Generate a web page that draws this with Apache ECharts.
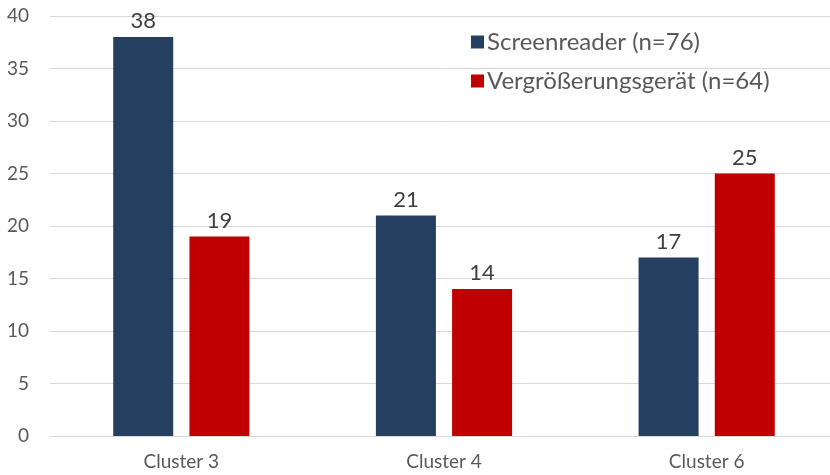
<!DOCTYPE html>
<html><head><meta charset="utf-8">
<script src="https://cdn.jsdelivr.net/npm/echarts@6/dist/echarts.min.js"></script>
<style>html,body{margin:0;padding:0;background:#fff}#c{width:830px;height:475px}</style>
</head><body><div id="c"></div>
<script>
const categories = ['Cluster 3', 'Cluster 4', 'Cluster 6'];
const screenreader = [38, 21, 17];
const vergroesserung = [19, 14, 25];
const seriesNames = ['Screenreader (n=76)', 'Vergrößerungsgerät (n=64)'];
const FONT = 'Lato';
const chart = echarts.init(document.getElementById('c'), null, {renderer: 'canvas'});
const labelStyle = {show: true, position: 'top', color: '#404040', fontSize: 22, lineHeight: 22, fontFamily: FONT, distance: 5};
chart.setOption({
  animation: false,
  backgroundColor: '#fff',
  textStyle: {fontFamily: FONT},
  grid: {left: 50, top: 16, right: -8, height: 420, containLabel: false, outerBoundsMode: 'none'},
  legend: {
    orient: 'vertical', left: 466, top: 25, itemWidth: 13, itemHeight: 13, itemGap: 15,
    icon: 'rect',
    textStyle: {color: '#595959', fontSize: 24, lineHeight: 24, fontFamily: FONT, padding: [0, 0, 0, -2]},
    data: seriesNames
  },
  xAxis: {
    type: 'category', data: categories,
    axisLine: {lineStyle: {color: '#d9d9d9', width: 1}},
    axisTick: {show: false},
    axisLabel: {color: '#595959', fontSize: 19, fontFamily: FONT, margin: 16}
  },
  yAxis: {
    type: 'value', min: 0, max: 40, interval: 5,
    axisLine: {show: false}, axisTick: {show: false},
    splitLine: {lineStyle: {color: '#d9d9d9', width: 1}},
    axisLabel: {color: '#595959', fontSize: 19, fontFamily: FONT, margin: 21}
  },
  series: [
    {name: seriesNames[0], type: 'bar', data: screenreader, barWidth: 60, barGap: '27%',
     itemStyle: {color: '#243F60'}, label: labelStyle},
    {name: seriesNames[1], type: 'bar', data: vergroesserung, barWidth: 60,
     itemStyle: {color: '#C00000'}, label: labelStyle}
  ]
});
</script></body></html>
